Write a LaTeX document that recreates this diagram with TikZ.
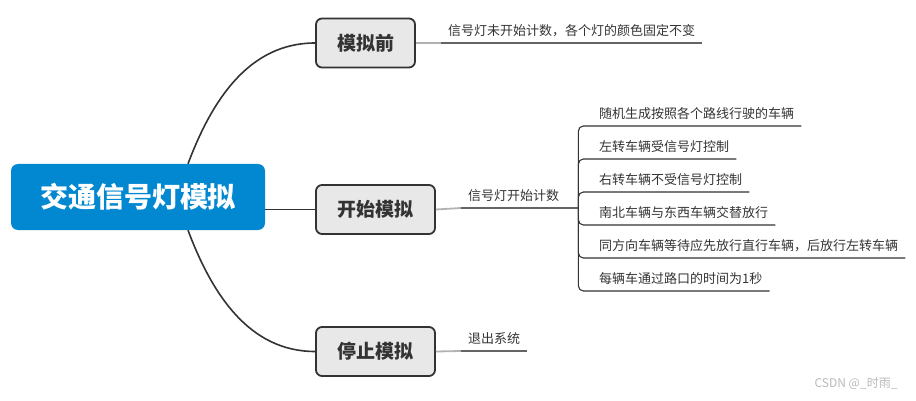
\documentclass[tikz,border=0pt]{standalone}
\usepackage{fontspec}
\setmainfont{Noto Sans CJK SC}
\usepackage{tikz}
\usetikzlibrary{positioning}
\definecolor{rootblue}{RGB}{2,136,209}
\definecolor{topicgray}{RGB}{232,232,232}
\definecolor{darkline}{RGB}{51,51,51}
\definecolor{midline}{RGB}{100,100,100}
\tikzstyle{rootbox} = [rectangle, fill=rootblue, text=white, rounded corners=7pt,
    minimum width=254pt, minimum height=66pt, font=\fontsize{28pt}{32pt}\selectfont\bfseries]
\tikzstyle{topic} = [rectangle, draw=darkline, line width=1.8pt, fill=topicgray,
    rounded corners=6pt, minimum height=49pt, text=darkline, font=\fontsize{19pt}{22pt}\selectfont\bfseries]
\tikzstyle{note} = [anchor=south west, inner xsep=7pt, inner ysep=6pt, text=darkline,
    font=\fontsize{13pt}{15pt}\selectfont]
\tikzstyle{branch} = [draw=darkline, line width=1.6pt]
\tikzstyle{fade} = [draw=gray!60, line width=1.8pt]
\tikzstyle{noteline} = [draw=midline, line width=1.8pt]
\tikzstyle{twig} = [draw=darkline, line width=1.1pt, rounded corners=5pt]

\begin{document}
\begin{tikzpicture}[x=1pt, y=-1pt]
    \useasboundingbox (0,0) rectangle (916,401);
    % Place nodes
    \node [rootbox] (root) at (138,197) {交通信号灯模拟};
    \node [topic, minimum width=99pt] (before) at (365.5,43) {模拟前};
    \node [topic, minimum width=119pt] (start) at (375.5,209.5) {开始模拟};
    \node [topic, minimum width=119pt] (stop) at (375.5,351.5) {停止模拟};

    \node [note] (beforeNote) at (441,43) {信号灯未开始计数，各个灯的颜色固定不变};
    \node [note] (startNote) at (461,208) {信号灯开始计数};
    \node [note] (stopNote) at (461,351) {退出系统};
    \coordinate [right=12pt of startNote.south east] (junction);

    \node [note] (randomCars) at (592,126) {随机生成按照各个路线行驶的车辆};
    \node [note] (leftTurn) at (592,159) {左转车辆受信号灯控制};
    \node [note] (rightTurn) at (592,192) {右转车辆不受信号灯控制};
    \node [note] (alternate) at (592,225) {南北车辆与东西车辆交替放行};
    \node [note] (straightFirst) at (592,258) {同方向车辆等待应先放行直行车辆，后放行左转车辆};
    \node [note] (crossTime) at (592,291) {每辆车通过路口的时间为1秒};

    \node [anchor=east, text=gray!55, font=\fontsize{12pt}{14pt}\selectfont] (mark) at (901,384) {CSDN @\_时雨\_};

    % main branches
    \path [branch] ([xshift=50pt]root.north) .. controls +(24,-64) and +(-66,0) .. (before.west);
    \path [branch] (root.east |- start.west) -- (start.west);
    \path [branch] ([xshift=50pt]root.south) .. controls +(24,64) and +(-66,0) .. (stop.west);

    % notes
    \path [fade] (before.east) -- (beforeNote.south west);
    \path [noteline] (beforeNote.south west) -- (beforeNote.south east);
    \path [fade] (start.east) -- (startNote.south west);
    \path [noteline] (startNote.south west) -- (junction);
    \path [fade] (stop.east) -- (stopNote.south west);
    \path [noteline] (stopNote.south west) -- (stopNote.south east);

    % children of startNote
    \path [twig] (junction) |- (randomCars.south east);
    \path [twig] (junction) |- (leftTurn.south east);
    \path [twig] (junction) |- (rightTurn.south east);
    \path [twig] (junction) |- (alternate.south east);
    \path [twig] (junction) |- (straightFirst.south east);
    \path [twig] (junction) |- (crossTime.south east);
\end{tikzpicture}
\end{document}
